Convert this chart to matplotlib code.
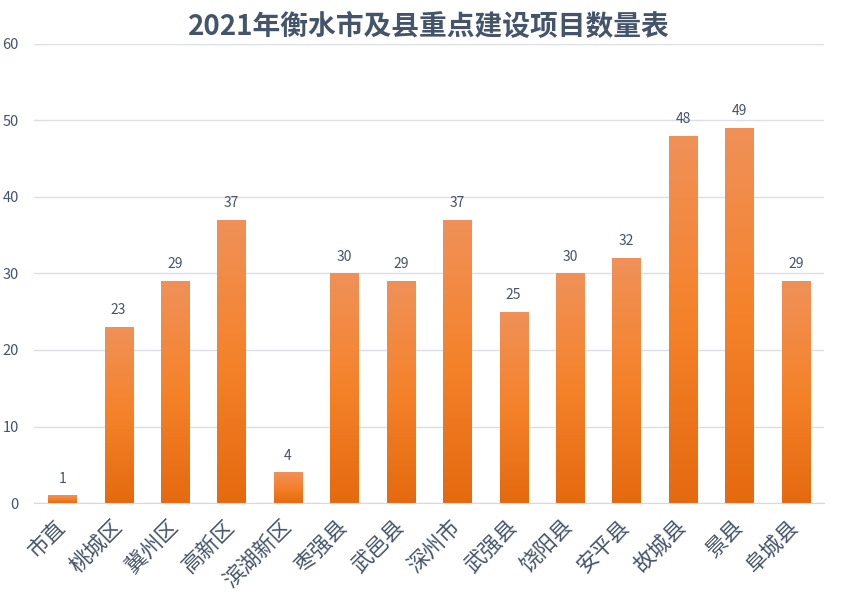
import numpy as np
import matplotlib.pyplot as plt
from matplotlib.colors import LinearSegmentedColormap

plt.rcParams['font.family'] = ['Noto Sans CJK SC', 'DejaVu Sans']

title = '2021年衡水市及县重点建设项目数量表'
districts = ['市直', '桃城区', '冀州区', '高新区', '滨湖新区', '枣强县', '武邑县',
             '深州市', '武强县', '饶阳县', '安平县', '故城县', '景县', '阜城县']
projects = [1, 23, 29, 37, 4, 30, 29, 37, 25, 30, 32, 48, 49, 29]

text_color = '#44546A'
grad = LinearSegmentedColormap.from_list('bar', ['#E5690F', '#F5822A', '#F09159'])

fig = plt.figure(figsize=(8.58, 6.09), dpi=100)
ax = fig.add_axes([0.0396, 0.174, 0.9208, 0.754])

x = np.arange(len(districts))
bars = ax.bar(x, projects, width=0.5, color='none', edgecolor='none', zorder=2)

# vertical gradient inside each bar
g = np.linspace(0, 1, 256).reshape(-1, 1)
for b in bars:
    x0, y0 = b.get_x(), b.get_y()
    im = ax.imshow(g, cmap=grad, origin='lower', aspect='auto', zorder=2,
                   extent=[x0, x0 + b.get_width(), y0, y0 + b.get_height()])
    im.set_clip_path(b)

for xi, v in zip(x, projects):
    ax.annotate(str(v), (xi, v), xytext=(0, 7), textcoords='offset points',
                ha='center', va='bottom', fontsize=10, color=text_color)

ax.set_xlim(-0.5, len(districts) - 0.5)
ax.set_ylim(0, 60)
ax.set_yticks(range(0, 61, 10))
ax.yaxis.grid(True, color='#DCDFE6', linewidth=1)
ax.set_axisbelow(True)
for s in ['top', 'right', 'left']:
    ax.spines[s].set_visible(False)
ax.spines['bottom'].set_color('#D9D9D9')
ax.tick_params(axis='y', length=0, pad=11, labelsize=10.5, labelcolor=text_color)
ax.tick_params(axis='x', length=0, pad=15, labelsize=15.5, labelcolor=text_color)
ax.set_xticks(x)
ax.set_xticklabels(districts, rotation=45, ha='right', va='center',
                   rotation_mode='anchor')

fig.text(0.5, 0.955, title, ha='center', va='center', fontsize=20,
         fontweight='bold', color=text_color)

fig.savefig('out.png', dpi=100)
